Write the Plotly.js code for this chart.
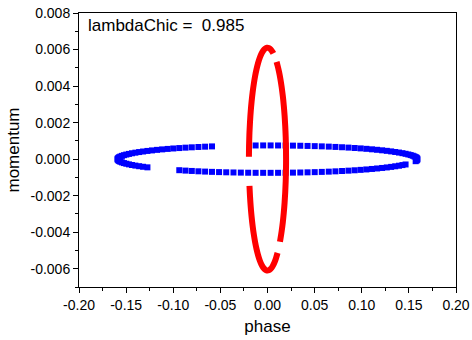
<!DOCTYPE html>
<html>
<head>
<meta charset="utf-8">
<script src="https://cdn.plot.ly/plotly-3.0.1.min.js"></script>
<style>html,body{margin:0;padding:0;background:#fff;}#chart{width:472px;height:340px;}</style>
</head>
<body>
<div id="chart"></div>
<script>
// Blue trajectory (square markers), four visible pieces separated by gaps
const blueTopLeftX = [-0.0589,-0.0662,-0.0733,-0.0803,-0.0870,-0.0936,-0.0999,-0.1059,-0.1117,-0.1172,-0.1225,-0.1274,-0.1320,-0.1362,-0.1402,-0.1438,-0.1470,-0.1498,-0.1523,-0.1544,-0.1561,-0.1574,-0.1583,-0.1589,-0.1590];
const blueTopLeftY = [0.000697,0.000682,0.000666,0.000647,0.000628,0.000606,0.000584,0.000559,0.000534,0.000507,0.000478,0.000449,0.000418,0.000387,0.000354,0.000321,0.000286,0.000251,0.000216,0.000179,0.000143,0.000106,0.000069,0.000031,0.0];
const blueTopRightX = [-0.0126,-0.0046,0.0033,0.0112,0.0192,0.0270,0.0348,0.0425,0.0501,0.0576,0.0650,0.0721,0.0791,0.0859,0.0925,0.0988,0.1049,0.1108,0.1163,0.1216,0.1266,0.1312,0.1355,0.1395,0.1432,0.1465,0.1494,0.1519,0.1541,0.1558,0.1572,0.1582,0.1588,0.1590,0.1588,0.1582,0.1572];
const blueTopRightY = [0.000748,0.000750,0.000750,0.000748,0.000745,0.000739,0.000732,0.000723,0.000712,0.000699,0.000685,0.000668,0.000651,0.000631,0.000610,0.000588,0.000564,0.000538,0.000511,0.000483,0.000454,0.000424,0.000392,0.000360,0.000326,0.000292,0.000257,0.000222,0.000186,0.000149,0.000112,0.000075,0.000038,0.0,-0.000038,-0.000075,-0.000112];
const blueBotLeftX = [-0.1589,-0.1583,-0.1574,-0.1561,-0.1544,-0.1523,-0.1498,-0.1470,-0.1438,-0.1402,-0.1362,-0.1320,-0.1274];
const blueBotLeftY = [-0.000031,-0.000069,-0.000106,-0.000143,-0.000179,-0.000216,-0.000251,-0.000286,-0.000321,-0.000354,-0.000387,-0.000418,-0.000449];
const blueBotRightX = [-0.0936,-0.0870,-0.0803,-0.0733,-0.0662,-0.0589,-0.0514,-0.0438,-0.0361,-0.0283,-0.0205,-0.0126,-0.0046,0.0033,0.0112,0.0192,0.0270,0.0348,0.0425,0.0501,0.0576,0.0650,0.0721,0.0791,0.0859,0.0925,0.0988,0.1049,0.1108,0.1163,0.1216,0.1266,0.1312,0.1355,0.1395,0.1432,0.1465];
const blueBotRightY = [-0.000606,-0.000628,-0.000647,-0.000666,-0.000682,-0.000697,-0.000710,-0.000721,-0.000730,-0.000738,-0.000744,-0.000748,-0.000750,-0.000750,-0.000748,-0.000745,-0.000739,-0.000732,-0.000723,-0.000712,-0.000699,-0.000685,-0.000668,-0.000651,-0.000631,-0.000610,-0.000588,-0.000564,-0.000538,-0.000511,-0.000483,-0.000454,-0.000424,-0.000392,-0.000360,-0.000326,-0.000292];

// Red trajectory (thick line), three visible pieces
const redRightX = [0.00963,0.01064,0.01225,0.01372,0.01507,0.01626,0.01729,0.01815,0.01882,0.01931,0.01960,0.01970,0.01960,0.01931,0.01882,0.01815,0.01729,0.01626,0.01507,0.01372,0.01322];
const redRightY = [0.005322,0.005133,0.004778,0.004376,0.003930,0.003444,0.002924,0.002375,0.001803,0.001212,0.000609,0.0,-0.000609,-0.001212,-0.001803,-0.002375,-0.002924,-0.003444,-0.003930,-0.004376,-0.004522];
const redBottomX = [0.01064,0.00894,0.00714,0.00527,0.00335,0.00139,-0.00058,-0.00254,-0.00448,-0.00637,-0.00820,-0.00994,-0.01159,-0.01313,-0.01453,-0.01578,-0.01688,-0.01781,-0.01856,-0.01913];
const redBottomY = [-0.005133,-0.005436,-0.005685,-0.005878,-0.006011,-0.006085,-0.006098,-0.006049,-0.005940,-0.005772,-0.005547,-0.005266,-0.004932,-0.004549,-0.004121,-0.003651,-0.003145,-0.002607,-0.002044,-0.001459];
const redTopX = [-0.01970,-0.01950,-0.01913,-0.01856,-0.01781,-0.01688,-0.01578,-0.01453,-0.01313,-0.01159,-0.00994,-0.00820,-0.00637,-0.00448,-0.00254,-0.00058,0.00139,0.00335,0.00527,0.00621];
const redTopY = [0.000132,0.000861,0.001459,0.002044,0.002607,0.003145,0.003651,0.004121,0.004549,0.004932,0.005266,0.005547,0.005772,0.005940,0.006049,0.006098,0.006085,0.006011,0.005878,0.005789];

const xTickVals = [-0.20,-0.15,-0.10,-0.05,0.00,0.05,0.10,0.15,0.20];
const yTickVals = [-0.006,-0.004,-0.002,0.000,0.002,0.004,0.006,0.008];
const labelText = "lambdaChic =\u00A0 0.985";

const blueMarker = {color:'#0000ff', size:6, symbol:'square', line:{width:0}};
const redLine = {color:'#ff0000', width:6, shape:'spline'};

const traces = [
  {x:blueTopLeftX, y:blueTopLeftY, mode:'markers', marker:blueMarker},
  {x:blueTopRightX, y:blueTopRightY, mode:'markers', marker:blueMarker},
  {x:blueBotLeftX, y:blueBotLeftY, mode:'markers', marker:blueMarker},
  {x:blueBotRightX, y:blueBotRightY, mode:'markers', marker:blueMarker},
  {x:redRightX, y:redRightY, mode:'lines', line:redLine},
  {x:redBottomX, y:redBottomY, mode:'lines', line:redLine},
  {x:redTopX, y:redTopY, mode:'lines', line:redLine}
];

const fontFam = '"Liberation Sans", Arial, sans-serif';
const axisCommon = {
  showline:true, linecolor:'#000', linewidth:1, mirror:true,
  ticks:'outside', ticklen:5, tickwidth:1, tickcolor:'#000',
  showgrid:false, zeroline:false,
  tickfont:{family:fontFam, size:14, color:'#000'}
};

const layout = {
  width:472, height:340,
  margin:{l:79, r:16, t:13, b:53},
  paper_bgcolor:'#fff', plot_bgcolor:'#fff',
  showlegend:false,
  font:{family:fontFam, color:'#000'},
  xaxis:Object.assign({}, axisCommon, {
    range:[-0.2,0.2], tickmode:'array', tickvals:xTickVals,
    ticktext:xTickVals.map(v=>v.toFixed(2)),
    minor:{dtick:0.025, tick0:0, ticks:'outside', ticklen:3, tickcolor:'#000', showgrid:false},
    title:{text:'phase', font:{family:fontFam, size:17, color:'#000'}, standoff:8}
  }),
  yaxis:Object.assign({}, axisCommon, {
    range:[-0.007,0.008], tickmode:'array', tickvals:yTickVals,
    ticktext:yTickVals.map(v=>v.toFixed(3)),
    minor:{dtick:0.001, tick0:0, ticks:'outside', ticklen:3, tickcolor:'#000', showgrid:false},
    title:{text:'momentum', font:{family:fontFam, size:17, color:'#000'}, standoff:6}
  }),
  annotations:[{
    text:labelText, xref:'paper', yref:'paper', x:0.0186, y:0.9526,
    xanchor:'left', yanchor:'middle', showarrow:false,
    font:{family:fontFam, size:17, color:'#000'}
  }]
};

Plotly.newPlot('chart', traces, layout, {staticPlot:true, displayModeBar:false});
</script>
</body>
</html>
